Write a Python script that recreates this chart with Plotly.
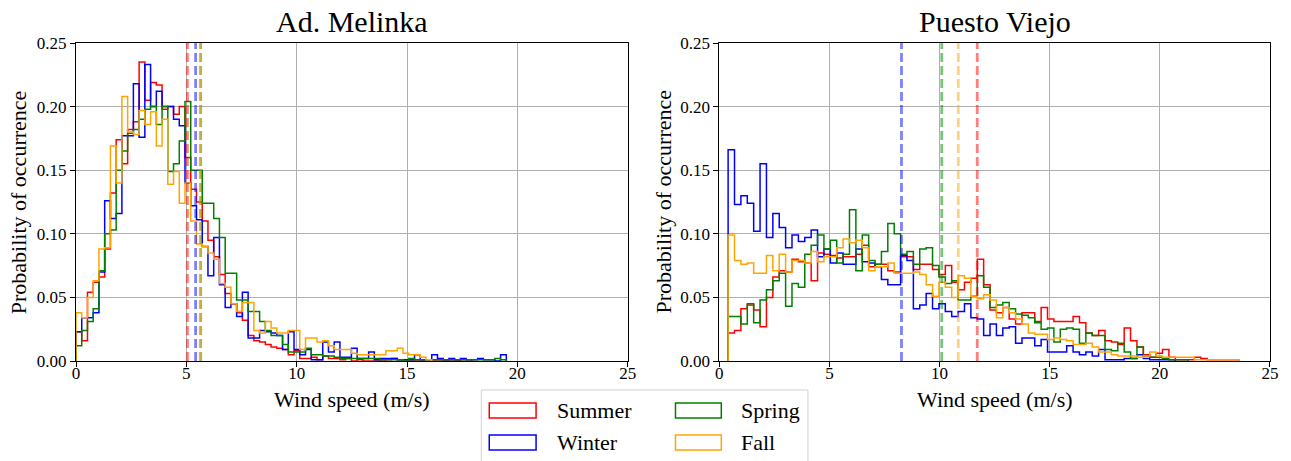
import numpy as np
import plotly.graph_objects as go

# ---------------- data ----------------
seasons = ["Summer", "Winter", "Spring", "Fall"]

# Ad. Melinka: probability per wind-speed bin (bins start at 0 m/s, width 0.26 m/s)
melinka_bin_start = 0.0
melinka_bin_width = 0.26
melinka_summer = [0.023, 0.016, 0.054, 0.062, 0.066, 0.088, 0.132, 0.174, 0.155, 0.182,
                  0.188, 0.235, 0.205, 0.219, 0.217, 0.198, 0.200, 0.194, 0.200, 0.160,
                  0.135, 0.125, 0.110, 0.095, 0.082, 0.068, 0.053, 0.045, 0.038, 0.032,
                  0.020, 0.016, 0.015, 0.013, 0.011, 0.010, 0.009, 0.005, 0.008, 0.002,
                  0.002, 0.003, 0.001, 0.004, 0.002, 0.002, 0.001, 0.002, 0.000, 0.001,
                  0.000, 0.000, 0.000, 0.000, 0.001, 0.002, 0.001, 0.000, 0.000, 0.000,
                  0.000, 0.000, 0.000, 0.000, 0.000, 0.000, 0.000, 0.001, 0.001]
melinka_winter = [0.023, 0.034, 0.034, 0.038, 0.070, 0.126, 0.112, 0.116, 0.177, 0.177,
                  0.218, 0.176, 0.233, 0.200, 0.212, 0.200, 0.200, 0.190, 0.185, 0.140,
                  0.122, 0.111, 0.090, 0.067, 0.097, 0.060, 0.042, 0.045, 0.035, 0.054,
                  0.018, 0.018, 0.024, 0.023, 0.022, 0.020, 0.009, 0.023, 0.009, 0.005,
                  0.009, 0.001, 0.001, 0.015, 0.007, 0.015, 0.003, 0.003, 0.010, 0.002,
                  0.002, 0.007, 0.001, 0.002, 0.002, 0.002, 0.001, 0.001, 0.001, 0.005,
                  0.001, 0.001, 0.005, 0.002, 0.001, 0.002, 0.001, 0.002, 0.001, 0.001,
                  0.002, 0.001, 0.001, 0.000, 0.005]
melinka_spring = [0.012, 0.024, 0.031, 0.041, 0.071, 0.100, 0.103, 0.150, 0.165, 0.179,
                  0.182, 0.190, 0.198, 0.200, 0.186, 0.200, 0.149, 0.155, 0.173, 0.204,
                  0.150, 0.150, 0.124, 0.124, 0.112, 0.097, 0.069, 0.069, 0.048, 0.048,
                  0.039, 0.039, 0.031, 0.024, 0.020, 0.020, 0.013, 0.007, 0.007, 0.007,
                  0.010, 0.005, 0.005, 0.004, 0.004, 0.003, 0.002, 0.002, 0.002, 0.002,
                  0.002, 0.002, 0.002, 0.001, 0.001, 0.001, 0.001, 0.000, 0.002, 0.001,
                  0.001, 0.001, 0.001, 0.001, 0.001, 0.001, 0.001, 0.001, 0.001, 0.001,
                  0.001, 0.001, 0.001, 0.002, 0.001]
melinka_fall = [0.038, 0.034, 0.050, 0.063, 0.088, 0.089, 0.169, 0.140, 0.208, 0.180,
                0.178, 0.197, 0.186, 0.196, 0.169, 0.190, 0.139, 0.149, 0.124, 0.140,
                0.110, 0.092, 0.090, 0.085, 0.080, 0.061, 0.058, 0.045, 0.039, 0.046,
                0.046, 0.024, 0.022, 0.031, 0.026, 0.022, 0.022, 0.024, 0.024, 0.009,
                0.018, 0.018, 0.015, 0.016, 0.012, 0.009, 0.009, 0.009, 0.006, 0.005,
                0.005, 0.005, 0.005, 0.005, 0.008, 0.008, 0.010, 0.006, 0.005, 0.005,
                0.003, 0.001]
melinka_means = [5.05, 5.42, 5.65, 5.63]  # Summer, Winter, Spring, Fall

# Puesto Viejo: bins start at 0.4 m/s, width 0.29 m/s
puesto_bin_start = 0.4
puesto_bin_width = 0.29
puesto_summer = [0.022, 0.024, 0.041, 0.044, 0.040, 0.027, 0.050, 0.066, 0.071, 0.070,
                 0.080, 0.078, 0.077, 0.063, 0.085, 0.084, 0.083, 0.081, 0.082, 0.082,
                 0.084, 0.091, 0.074, 0.076, 0.076, 0.071, 0.070, 0.082, 0.082, 0.072,
                 0.076, 0.076, 0.072, 0.068, 0.075, 0.062, 0.056, 0.062, 0.065, 0.080,
                 0.060, 0.040, 0.038, 0.042, 0.033, 0.029, 0.038, 0.038, 0.031, 0.042,
                 0.033, 0.031, 0.031, 0.031, 0.035, 0.030, 0.022, 0.020, 0.024, 0.016,
                 0.015, 0.013, 0.026, 0.016, 0.011, 0.005, 0.003, 0.006, 0.009, 0.003,
                 0.001, 0.001, 0.001, 0.003, 0.002, 0.001, 0.001, 0.001, 0.001, 0.001]
puesto_winter = [0.166, 0.123, 0.130, 0.124, 0.102, 0.155, 0.097, 0.116, 0.105, 0.089,
                 0.099, 0.094, 0.097, 0.103, 0.082, 0.088, 0.077, 0.085, 0.076, 0.076,
                 0.088, 0.078, 0.077, 0.074, 0.064, 0.060, 0.060, 0.083, 0.079, 0.041,
                 0.044, 0.053, 0.041, 0.045, 0.039, 0.035, 0.039, 0.045, 0.034, 0.033,
                 0.020, 0.029, 0.020, 0.026, 0.027, 0.014, 0.018, 0.018, 0.012, 0.017,
                 0.007, 0.007, 0.007, 0.012, 0.007, 0.005, 0.007, 0.004, 0.009, 0.001,
                 0.001, 0.001, 0.002, 0.002, 0.005, 0.002, 0.001, 0.001, 0.001, 0.001]
puesto_spring = [0.035, 0.035, 0.029, 0.045, 0.030, 0.048, 0.056, 0.063, 0.069, 0.043,
                 0.061, 0.058, 0.084, 0.091, 0.099, 0.088, 0.095, 0.077, 0.084, 0.119,
                 0.071, 0.099, 0.079, 0.076, 0.086, 0.108, 0.100, 0.084, 0.086, 0.076,
                 0.088, 0.089, 0.075, 0.066, 0.061, 0.063, 0.048, 0.048, 0.051, 0.067,
                 0.058, 0.042, 0.044, 0.046, 0.041, 0.037, 0.036, 0.034, 0.030, 0.025,
                 0.026, 0.015, 0.025, 0.026, 0.025, 0.014, 0.022, 0.020, 0.020, 0.009,
                 0.008, 0.014, 0.007, 0.002, 0.011, 0.004, 0.003, 0.003, 0.002, 0.001,
                 0.001, 0.001]
puesto_fall = [0.099, 0.079, 0.076, 0.077, 0.069, 0.069, 0.083, 0.071, 0.084, 0.070,
               0.079, 0.079, 0.077, 0.086, 0.078, 0.082, 0.082, 0.089, 0.096, 0.093,
               0.095, 0.089, 0.071, 0.074, 0.074, 0.077, 0.069, 0.069, 0.069, 0.070,
               0.068, 0.060, 0.051, 0.062, 0.058, 0.050, 0.067, 0.065, 0.051, 0.049,
               0.052, 0.048, 0.034, 0.042, 0.038, 0.033, 0.029, 0.022, 0.021, 0.021,
               0.017, 0.018, 0.017, 0.016, 0.013, 0.013, 0.014, 0.011, 0.007, 0.007,
               0.005, 0.004, 0.004, 0.004, 0.003, 0.004, 0.007, 0.004, 0.003, 0.003,
               0.003, 0.003, 0.003, 0.001, 0.001, 0.001, 0.001, 0.001, 0.001, 0.001]
puesto_means = [11.71, 8.27, 10.10, 10.85]

x_ticks = [0, 5, 10, 15, 20, 25]
y_ticks = [0.00, 0.05, 0.10, 0.15, 0.20, 0.25]

# ---------------- styling ----------------
line_colors = ["#ff0000", "#0000ff", "#008000", "#ffa500"]
mean_colors = ["rgba(255,0,0,0.5)", "rgba(0,0,255,0.5)", "rgba(0,128,0,0.5)", "rgba(255,165,0,0.5)"]
FONT = "Liberation Serif"

W, H = 1291, 461
ML, MR, MT, MB = 76, 16, 43, 100
PW = W - ML - MR
PH = H - MT - MB


def px_x(px):
    return (px - ML) / PW


def px_y(py):
    return (H - MB - py) / PH


def step_xy(start, width, values):
    n = len(values)
    edges = start + width * np.arange(n + 1)
    xs = np.concatenate([[edges[0]], edges[:-1], [edges[-1]]])
    ys = np.concatenate([[0.0], np.asarray(values, dtype=float), [0.0]])
    return xs, ys


fig = go.Figure()

panels = [
    ("x", "y", melinka_bin_start, melinka_bin_width,
     [melinka_summer, melinka_winter, melinka_spring, melinka_fall], melinka_means),
    ("x2", "y2", puesto_bin_start, puesto_bin_width,
     [puesto_summer, puesto_winter, puesto_spring, puesto_fall], puesto_means),
]

for xa, ya, start, width, series, means in panels:
    for name, vals, col in zip(seasons, series, line_colors):
        xs, ys = step_xy(start, width, vals)
        fig.add_trace(go.Scatter(x=xs, y=ys, mode="lines", name=name,
                                 line=dict(color=col, width=1.5, shape="hv"),
                                 xaxis=xa, yaxis=ya, showlegend=False, hoverinfo="skip"))
    for name, m, col in zip(seasons, means, mean_colors):
        fig.add_trace(go.Scatter(x=[m, m], y=[y_ticks[0], y_ticks[-1]], mode="lines",
                                 line=dict(color=col, width=2.8, dash="9px,4px"),
                                 xaxis=xa, yaxis=ya, showlegend=False, hoverinfo="skip"))

axis_common = dict(
    showline=True, linecolor="black", linewidth=1, mirror=True,
    ticks="outside", ticklen=5, tickcolor="black", tickwidth=1,
    showgrid=True, gridcolor="#b0b0b0", gridwidth=1, zeroline=False,
    tickfont=dict(family=FONT, size=17, color="black"),
)

fig.update_layout(
    width=W, height=H,
    margin=dict(l=ML, r=MR, t=MT, b=MB),
    plot_bgcolor="white", paper_bgcolor="white",
    showlegend=False,
    xaxis=dict(domain=[0, px_x(630)], range=[0, 25], tickvals=x_ticks, anchor="y",
               ticklabelstandoff=-8, **axis_common),
    yaxis=dict(domain=[0, 1], range=[0, 0.25], tickvals=y_ticks, tickformat=".2f",
               anchor="x", **axis_common),
    xaxis2=dict(domain=[px_x(722), 1], range=[0, 25], tickvals=x_ticks, anchor="y2",
                ticklabelstandoff=-8, **axis_common),
    yaxis2=dict(domain=[0, 1], range=[0, 0.25], tickvals=y_ticks, tickformat=".2f",
                anchor="x2", **axis_common),
)

ann = []
# panel titles
for txt, cx in [("Ad. Melinka", 353), ("Puesto Viejo", 998.5)]:
    ann.append(dict(text=txt, x=px_x(cx), y=px_y(22), xref="paper", yref="paper",
                    showarrow=False, xanchor="center", yanchor="middle",
                    font=dict(family=FONT, size=30, color="black")))
# axis titles
for cx in [353, 998.5]:
    ann.append(dict(text="Wind speed (m/s)", x=px_x(cx), y=px_y(399), xref="paper", yref="paper",
                    showarrow=False, xanchor="center", yanchor="middle",
                    font=dict(family=FONT, size=22, color="black")))
for cx in [18, 665]:
    ann.append(dict(text="Probability of occurrence", x=px_x(cx), y=px_y(202), xref="paper",
                    yref="paper", showarrow=False, xanchor="center", yanchor="middle",
                    textangle=-90, font=dict(family=FONT, size=22, color="black")))

# legend (drawn manually with rectangle handles)
shapes = [dict(type="rect", xref="paper", yref="paper",
               x0=px_x(483), x1=px_x(811), y0=px_y(390), y1=px_y(478),
               line=dict(color="#d0d0d0", width=1), fillcolor="rgba(255,255,255,0.9)", layer="above")]
legend_slots = [(491, 538, 403, 418, 557), (491, 538, 435, 450, 557),
                (678, 724, 403, 418, 742), (678, 724, 435, 450, 742)]
for name, col, (x0, x1, y0, y1, tx) in zip(seasons, line_colors, legend_slots):
    shapes.append(dict(type="rect", xref="paper", yref="paper",
                       x0=px_x(x0), x1=px_x(x1), y0=px_y(y0), y1=px_y(y1),
                       line=dict(color=col, width=1.5), fillcolor="rgba(0,0,0,0)", layer="above"))
    ann.append(dict(text=name, x=px_x(tx), y=px_y((y0 + y1) / 2), xref="paper", yref="paper",
                    showarrow=False, xanchor="left", yanchor="middle",
                    font=dict(family=FONT, size=22, color="black")))

fig.update_layout(annotations=ann, shapes=shapes)
fig.write_html("out.html")
